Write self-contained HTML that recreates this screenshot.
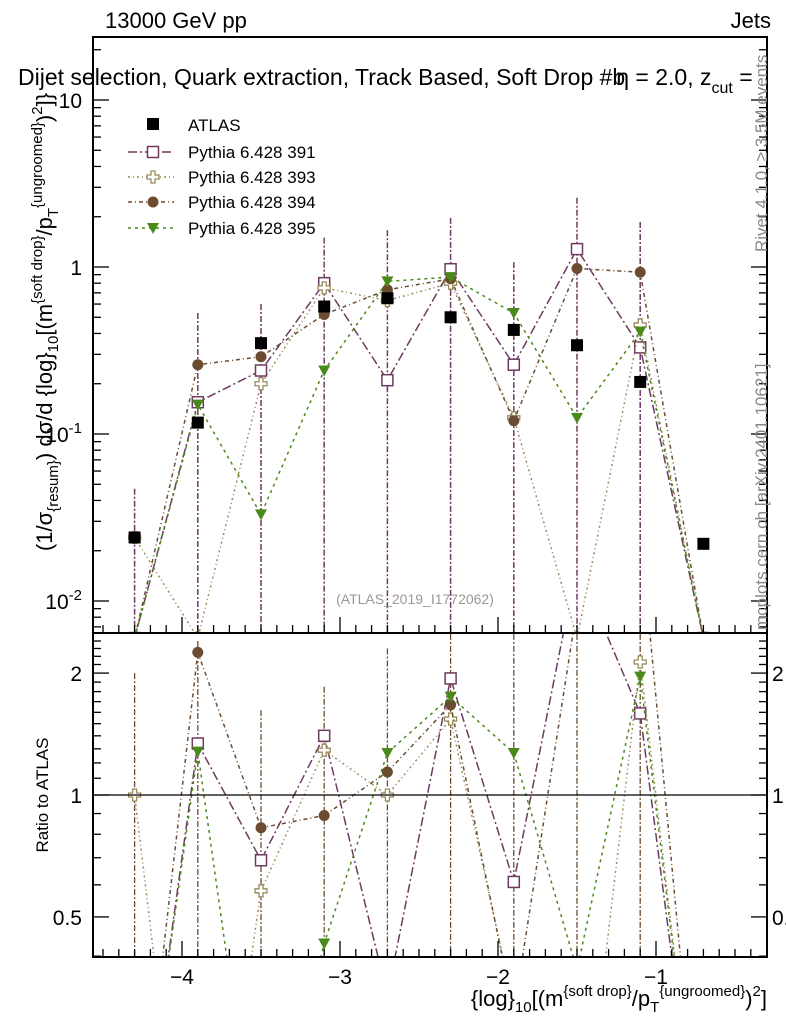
<!DOCTYPE html>
<html><head><meta charset="utf-8"><style>
body{margin:0;background:#fff;overflow:hidden;}
svg{display:block;font-family:"Liberation Sans",sans-serif;}
</style></head><body>
<svg id="c" width="786" height="1024" viewBox="0 0 786 1024">
<defs>
<clipPath id="cm"><rect x="93" y="37" width="674" height="596"/></clipPath>
<clipPath id="cr"><rect x="93" y="633" width="674" height="324"/></clipPath>
</defs>
<g id="main" clip-path="url(#cm)"></g>
<g id="ratio" clip-path="url(#cr)"></g>
<g id="axes"></g>
<text x="105" y="28" font-size="22">13000 GeV pp</text>
<text x="771" y="28" font-size="22" text-anchor="end">Jets</text>
<text x="18" y="85" font-size="23">Dijet selection, Quark extraction, Track Based, Soft Drop #b<tspan dx="-9">η = 2.0, z</tspan><tspan font-size="16" dy="8">cut</tspan><tspan dy="-8"> =</tspan></text>
<text transform="translate(52,322) rotate(-90)" font-size="22" text-anchor="middle">(1/σ<tspan font-size="15" dy="6">{resum}</tspan><tspan dy="-6">) dσ/d {log}</tspan><tspan font-size="15" dy="6">10</tspan><tspan dy="-6">[(m</tspan><tspan font-size="15" dy="-10">{soft drop}</tspan><tspan dy="10">/p</tspan><tspan font-size="15" dy="6">T</tspan><tspan font-size="15" dy="-16">{ungroomed}</tspan><tspan dy="10">)</tspan><tspan font-size="15" dy="-10">2</tspan><tspan dy="10">]}</tspan></text>
<text transform="translate(48,795) rotate(-90)" font-size="17" text-anchor="middle">Ratio to ATLAS</text>
<text transform="translate(767,252) rotate(-90)" font-size="17" fill="#888">Rivet 4.1.0, ≥ 3.5M events</text>
<text transform="translate(767,630) rotate(-90)" font-size="17" fill="#888">mcplots.cern.ch [arXiv:2401.10621]</text>
<text x="415" y="604" font-size="14" fill="#999" text-anchor="middle">(ATLAS_2019_I1772062)</text>
<text x="767" y="1006" font-size="22" text-anchor="end">{log}<tspan font-size="15" dy="6">10</tspan><tspan dy="-6">[(m</tspan><tspan font-size="15" dy="-10">{soft drop}</tspan><tspan dy="10">/p</tspan><tspan font-size="15" dy="6">T</tspan><tspan font-size="15" dy="-16">{ungroomed}</tspan><tspan dy="10">)</tspan><tspan font-size="15" dy="-10">2</tspan><tspan dy="10">]</tspan></text>
<g id="legend"></g>
</svg>
<script>
const xBins=[-4.3,-3.9,-3.5,-3.1,-2.7,-2.3,-1.9,-1.5,-1.1,-0.7];
const atlasVals=[0.024,0.117,0.35,0.58,0.65,0.5,0.42,0.34,0.205,0.022];
const p391=[0.006,0.155,0.24,0.8,0.21,0.97,0.26,1.28,0.33,0.006];
const p393=[0.024,0.006,0.2,0.75,0.63,0.8,0.125,0.006,0.45,0.006];
const p394=[0.006,0.26,0.29,0.52,0.73,0.85,0.12,0.98,0.93,0.006];
const p395=[0.006,0.15,0.033,0.24,0.82,0.87,0.53,0.125,0.41,0.006];
const r391=[0.1,1.34,0.69,1.40,0.32,1.94,0.61,3.7,1.59,0.1];
const r393=[1.0,0.05,0.58,1.29,1.0,1.54,0.3,0.1,2.13,0.1];
const r394=[0.1,2.25,0.83,0.89,1.14,1.67,0.29,2.9,4.5,0.1];
const r395=[0.1,1.28,0.1,0.43,1.27,1.75,1.27,0.37,1.96,0.1];
const errHi=[0.047,0.53,0.6,1.5,1.66,1.97,1.07,2.6,1.86,null];
const ratioErrHi=[2.0,2.4,1.62,1.85,2.3,2.5,2.5,2.5,2.5,null];
const xTicks=[-4,-3,-2,-1];
const ratioTicks=[0.5,1,2];

const NS='http://www.w3.org/2000/svg';
const X=v=>182+(v+4)*158;
const Y=v=>267-167*Math.log10(v);
const R=v=>795-405*Math.log10(v);
function mk(t,a,p){const e=document.createElementNS(NS,t);for(const k in a)e.setAttribute(k,a[k]);p.appendChild(e);return e;}
const main=document.getElementById('main'),ratio=document.getElementById('ratio'),axes=document.getElementById('axes'),leg=document.getElementById('legend');
const series=[
 {name:'Pythia 6.428 391',vals:p391,rv:r391,col:'#6e3a62',dash:'9,3,2,3',m:'sq'},
 {name:'Pythia 6.428 393',vals:p393,rv:r393,col:'#9a8a5a',dash:'2,3,1,3',m:'cross'},
 {name:'Pythia 6.428 394',vals:p394,rv:r394,col:'#6b4c30',dash:'4,3,1,3',m:'circ'},
 {name:'Pythia 6.428 395',vals:p395,rv:r395,col:'#4a8a1a',dash:'3,4',m:'tri'}];
function marker(m,x,y,col,g){
 if(m==='sq')return mk('rect',{x:x-5.5,y:y-5.5,width:11,height:11,fill:'#fff',stroke:col,'stroke-width':1.5},g);
 if(m==='circ')return mk('circle',{cx:x,cy:y,r:5.5,fill:col},g);
 if(m==='tri')return mk('path',{d:`M${x-6},${y-5}L${x+6},${y-5}L${x},${y+6}Z`,fill:col},g);
 if(m==='cross')return mk('path',{d:`M${x-2},${y-6}h4v4h4v4h-4v4h-4v-4h-4v-4h4z`,fill:'#fff',stroke:col,'stroke-width':1.3},g);
 if(m==='atlas')return mk('rect',{x:x-6,y:y-6,width:12,height:12,fill:'#000'},g);
}
xBins.forEach((b,i)=>{
 if(errHi[i]!==null){const l=mk('line',{x1:X(b),x2:X(b),y1:Y(errHi[i]),y2:640,stroke:'#6e3a62','stroke-width':1.5,'stroke-dasharray':'6,2,2,2'},main);
 
 }
 if(ratioErrHi[i]!==null){const l=mk('line',{x1:X(b),x2:X(b),y1:R(ratioErrHi[i]),y2:960,stroke:'#6b4c30','stroke-width':1.3,'stroke-dasharray':'6,2,2,2'},ratio);
 
 }
});
series.forEach((s,k)=>{
 const pts=xBins.map((b,i)=>X(b)+','+Y(s.vals[i])).join(' ');
 const pl=mk('polyline',{points:pts,fill:'none',stroke:s.col,'stroke-width':1.5,'stroke-dasharray':s.dash},main);
 
 
 const rp=xBins.map((b,i)=>X(b)+','+R(s.rv[i])).join(' ');
 const rl=mk('polyline',{points:rp,fill:'none',stroke:s.col,'stroke-width':1.5,'stroke-dasharray':s.dash},ratio);
 
 
 xBins.forEach((b,i)=>{
  const e=marker(s.m,X(b),Y(s.vals[i]),s.col,main);
  
  
  const r=marker(s.m,X(b),R(s.rv[i]),s.col,ratio);
  
  
 });
});
xBins.forEach((b,i)=>{const e=marker('atlas',X(b),Y(atlasVals[i]),'#000',main);
 
 });
mk('line',{x1:93,x2:767,y1:R(1),y2:R(1),stroke:'#000','stroke-width':1.3},ratio);
mk('rect',{x:93,y:37,width:674,height:596,fill:'none',stroke:'#000','stroke-width':2},axes);
mk('rect',{x:93,y:633,width:674,height:324,fill:'none',stroke:'#000','stroke-width':2},axes);
for(let v=-4.5;v<=-0.3;v+=0.1){const vv=Math.round(v*10)/10;const maj=Math.abs(vv-Math.round(vv))<1e-6;const L=maj?16:8;
 [633,957].forEach(yy=>{mk('line',{x1:X(vv),x2:X(vv),y1:yy,y2:yy-L,stroke:'#000','stroke-width':1.3},axes);});}
xTicks.forEach(t=>{const e=mk('text',{x:X(t),y:984,'font-size':21,'text-anchor':'middle'},axes);e.textContent='−'+Math.abs(t);
 
 });
for(let d=-3;d<=1;d++){for(let m=1;m<=9;m++){const v=m*Math.pow(10,d);const y=Y(v);if(y<37||y>633)continue;const L=m===1?16:8;
 mk('line',{x1:93,x2:93+L,y1:y,y2:y,stroke:'#000','stroke-width':1.3},axes);mk('line',{x1:767,x2:767-L,y1:y,y2:y,stroke:'#000','stroke-width':1.3},axes);}}
[[10,'10'],[1,'1']].forEach(([v,t])=>{const e=mk('text',{x:82,y:Y(v)+8,'font-size':21,'text-anchor':'end'},axes);e.textContent=t;
 
 });
[[0.1,'-1'],[0.01,'-2']].forEach(([v,p])=>{const e=mk('text',{x:82,y:Y(v)+8,'font-size':21,'text-anchor':'end'},axes);
 e.innerHTML='10<tspan font-size="15" dy="-9">'+p+'</tspan>';
 
 });
for(let v=0.4;v<=2.5;v+=0.1){const vv=Math.round(v*10)/10;const y=R(vv);if(y<633||y>957)continue;const maj=ratioTicks.includes(vv);const L=maj?16:8;
 mk('line',{x1:93,x2:93+L,y1:y,y2:y,stroke:'#000','stroke-width':1.3},axes);mk('line',{x1:767,x2:767-L,y1:y,y2:y,stroke:'#000','stroke-width':1.3},axes);}
ratioTicks.forEach(t=>{[[82,'end'],[772,'start']].forEach(([x,a])=>{const e=mk('text',{x:x,y:R(t)+8,'font-size':21,'text-anchor':a},axes);e.textContent=String(t);
 
 });});
const ly=[124,152,177,202,228];
marker('atlas',153,ly[0],'#000',leg);
const t0=mk('text',{x:188,y:ly[0]+7,'font-size':17},leg);t0.textContent='ATLAS';


series.forEach((s,k)=>{const y=ly[k+1];
 mk('line',{x1:128,x2:174,y1:y,y2:y,stroke:s.col,'stroke-width':1.5,'stroke-dasharray':s.dash},leg);
 marker(s.m,153,y,s.col,leg);
 const t=mk('text',{x:188,y:y+6,'font-size':17},leg);t.textContent=s.name;
 
 });
</script>
</body></html>
